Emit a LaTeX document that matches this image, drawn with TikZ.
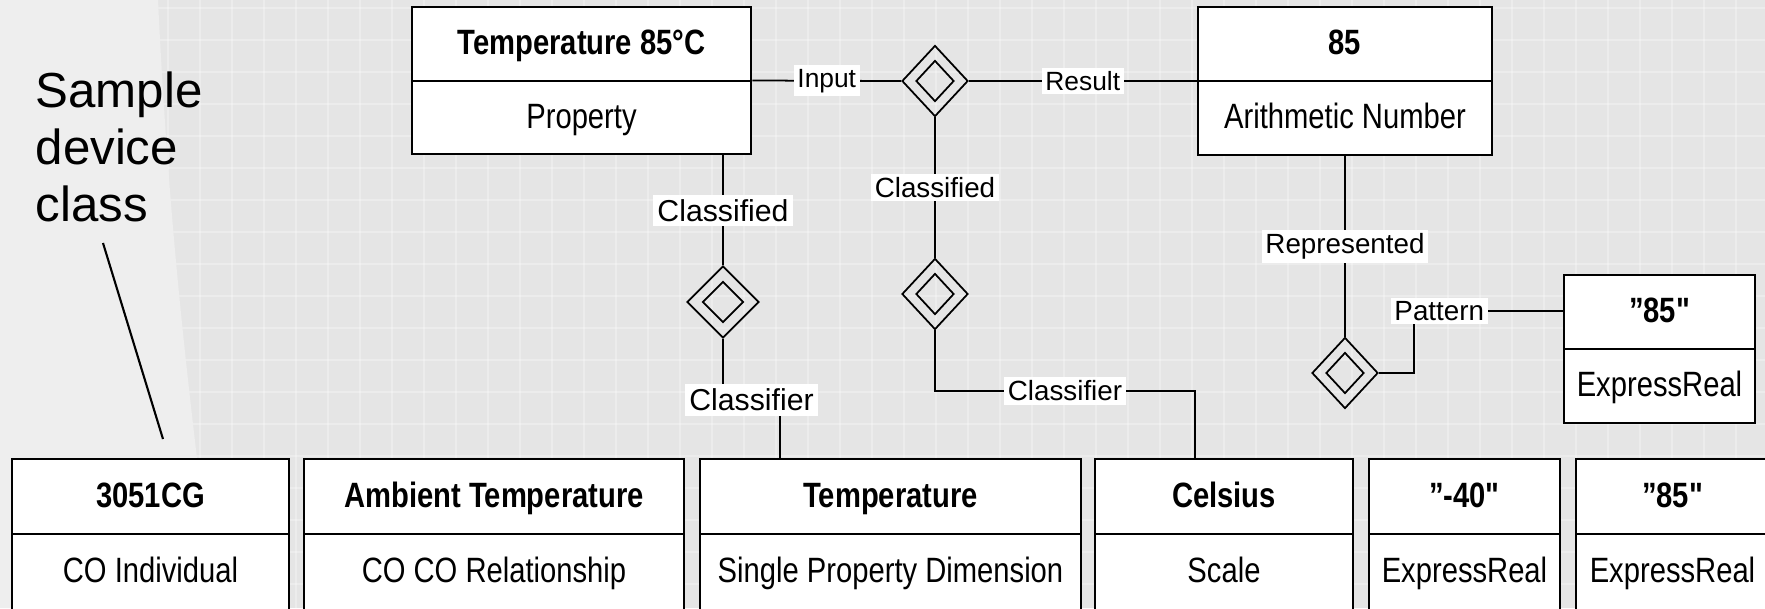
\documentclass[tikz,border=0pt]{standalone}
\usepackage{fontspec}
\setmainfont{Liberation Sans}
\newfontfamily\boxfont[FakeStretch=0.83]{Liberation Sans}
\usetikzlibrary{shapes.geometric,fit}
\definecolor{bgc}{RGB}{229,229,229}
\definecolor{bgl}{RGB}{238,238,238}
\newcommand\rbox[8]{%
  \node[rec,fit={(#2,#3) (#4,#5)}] (#1) {};
  \draw[line width=0.8pt] (#2,#6) -- (#4,#6);
  \node[ttl] (#1t) at ({(#2+#4)/2},{(#3+#6)/2}) {#7};
  \node[sub] (#1s) at ({(#2+#4)/2},{(#6+#5)/2}) {#8};
}
\begin{document}
\begin{tikzpicture}[x=0.01cm,y=-0.01cm,
  rec/.style={draw=black,line width=0.8pt,fill=white,inner sep=0pt},
  ttl/.style={font=\boxfont\bfseries\fontsize{10}{12}\selectfont,inner sep=0pt,text height=7.2pt,text depth=1.2pt},
  sub/.style={font=\boxfont\fontsize{10}{12}\selectfont,inner sep=0pt,text height=7.2pt,text depth=1.2pt},
  lbl/.style={fill=white,inner sep=1.3pt,font=\fontsize{8.6}{10}\selectfont},
  lbls/.style={fill=white,inner sep=1pt,font=\fontsize{7.9}{9}\selectfont},
  lblt/.style={fill=white,inner sep=1pt,font=\fontsize{7.5}{9}\selectfont},
  dia/.style={diamond,draw,line width=0.5pt,inner sep=0pt,minimum width=0.66cm,minimum height=0.71cm},
  din/.style={diamond,draw,line width=0.5pt,inner sep=0pt,minimum width=0.38cm,minimum height=0.41cm},
  conn/.style={line width=0.5pt}]
\useasboundingbox (0,0) rectangle (1765,608);
\clip (0,0) rectangle (1765,608);
% background
\fill[bgc] (0,0) rectangle (1765,608);
\foreach \i in {8,40,...,1765} \draw[white,opacity=0.3,line width=0.02cm] (\i,0) -- (\i,608);
\foreach \j in {8,40,...,608} \draw[white,opacity=0.3,line width=0.02cm] (0,\j) -- (1765,\j);
\fill[bgl] (0,0) -- (158,0) .. controls (170,250) and (190,400) .. (215,608) -- (0,608) -- cycle;

% boxes
\rbox{tp}{412}{7}{751}{154}{81}{Temperature 85°C}{Property}
\rbox{an}{1198}{7}{1492}{155}{81}{85}{Arithmetic Number}
\rbox{er}{1564}{275}{1755}{423}{349}{”85"}{ExpressReal}
\rbox{ba}{12}{459}{289}{610}{534}{3051CG}{CO Individual}
\rbox{bb}{304}{459}{684}{610}{534}{Ambient Temperature}{CO CO Relationship}
\rbox{bc}{700}{459}{1081}{610}{534}{Temperature}{Single Property Dimension}
\rbox{bd}{1095}{459}{1353}{610}{534}{Celsius}{Scale}
\rbox{be}{1369}{459}{1560}{610}{534}{”-40"}{ExpressReal}
\rbox{bf}{1576}{459}{1769}{610}{534}{”85"}{ExpressReal}

% diamonds
\node[dia] (d1) at (935,81) {};   \node[din] (d1i) at (d1) {};
\node[dia] (d2) at (935,294) {};  \node[din] (d2i) at (d2) {};
\node[dia,minimum width=0.72cm,minimum height=0.72cm] (d3) at (723,302) {};  \node[din,minimum width=0.41cm] (d3i) at (d3) {};
\node[dia] (d4) at (1345,373) {}; \node[din] (d4i) at (d4) {};

% connectors
\draw[conn] (tp.east) -- node[lblt]{Input} (d1.west);
\draw[conn] (d1.east) -- node[lblt]{Result} (an.west);
\draw[conn] (d1.south) -- node[lbls]{Classified} (d2.north);
\coordinate (k4) at (1195,391);
\draw[conn] (d2.south) |- node[pos=0.75,lbls]{Classifier} (k4) -- (k4 |- bd.north);
\draw[conn] (d3.north |- tp.south) -- node[lbl]{Classified} (d3.north);
\coordinate (k3) at (780,400);
\draw[conn] (d3.south) |- node[pos=0.75,lbl]{Classifier} (k3) -- (k3 |- bc.north);
\draw[conn] (an.south) -- node[lbls]{Represented} (d4.north);
\coordinate (k5) at (1414,311);
\draw[conn] (d4.east) -| (k5) -- node[pos=0.17,lbls]{Pattern} (k5 -| er.west);

% annotation
\node[anchor=north west,inner sep=0pt,align=left,font=\fontsize{14}{16.2}\selectfont] (sdc) at (35,71) {Sample\\device\\class};
\coordinate (sda) at (103,243);
\coordinate (sdb) at (163,439);
\draw[line width=0.6pt] (sda) -- (sdb);
\end{tikzpicture}
\end{document}
